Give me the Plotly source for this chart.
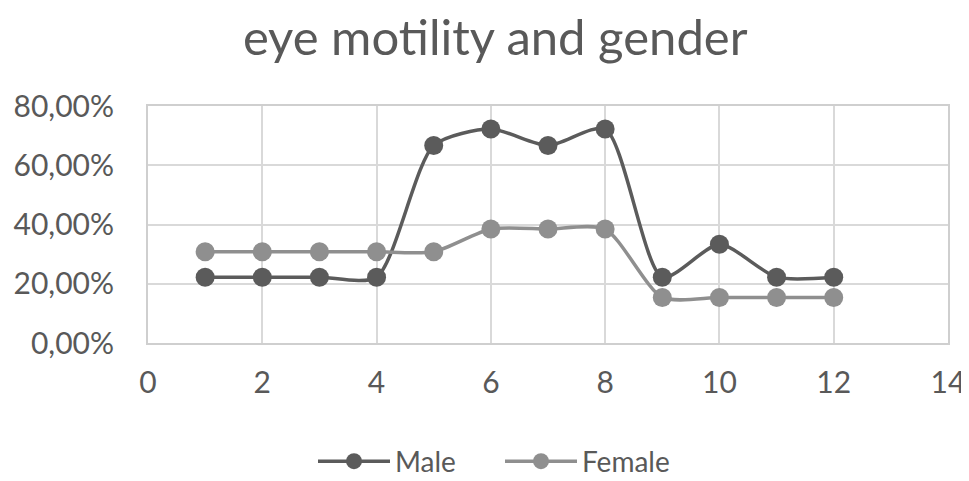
import plotly.graph_objects as go

x_vals = [1, 2, 3, 4, 5, 6, 7, 8, 9, 10, 11, 12]
male = [0.2222, 0.2222, 0.2222, 0.2222, 0.6667, 0.7222, 0.6667, 0.7222, 0.2222, 0.3333, 0.2222, 0.2222]
female = [0.3077, 0.3077, 0.3077, 0.3077, 0.3077, 0.3846, 0.3846, 0.3846, 0.1538, 0.1538, 0.1538, 0.1538]

title_text = "eye motility and gender"
font_family = "Lato, Open Sans, sans-serif"
text_color = "#595959"

fig = go.Figure()
fig.add_trace(go.Scatter(
    x=x_vals, y=male, name="Male", mode="lines+markers",
    line=dict(color="#5b5b5b", width=3.5, shape="spline", smoothing=0.7),
    marker=dict(size=19, color="#5b5b5b"),
))
fig.add_trace(go.Scatter(
    x=x_vals, y=female, name="Female", mode="lines+markers",
    line=dict(color="#8f8f8f", width=3.5, shape="spline", smoothing=0.7),
    marker=dict(size=19, color="#8f8f8f"),
))

fig.update_layout(
    width=961, height=473,
    paper_bgcolor="white", plot_bgcolor="white",
    separators=",.",
    margin=dict(l=140, r=21, t=98, b=138, autoexpand=False),
    title=dict(text=title_text, x=0.507, xanchor="center", y=0.937, yanchor="middle",
               font=dict(family=font_family, size=49, color=text_color)),
    font=dict(family=font_family, color=text_color),
    showlegend=True,
    legend=dict(orientation="h", x=0.44, xanchor="center", y=-0.5, yanchor="middle",
                font=dict(size=28, color=text_color), itemwidth=72, entrywidth=100),
)
fig.update_xaxes(range=[0, 14], dtick=2, tick0=0, showgrid=True, gridcolor="#d9d9d9", gridwidth=2,
                 zeroline=False, showline=True, linecolor="#cfcfcf", linewidth=2, mirror=True,
                 automargin=False,
                 ticks="", tickfont=dict(size=30, color=text_color), ticklabelstandoff=12)
fig.update_yaxes(range=[0, 0.8], dtick=0.2, tickformat=".2%", showgrid=True, gridcolor="#d9d9d9", gridwidth=2,
                 zeroline=False, showline=True, linecolor="#cfcfcf", linewidth=2, mirror=True,
                 automargin=False,
                 ticks="", tickfont=dict(size=30, color=text_color), ticklabelstandoff=26)

fig.write_html("out.html")
